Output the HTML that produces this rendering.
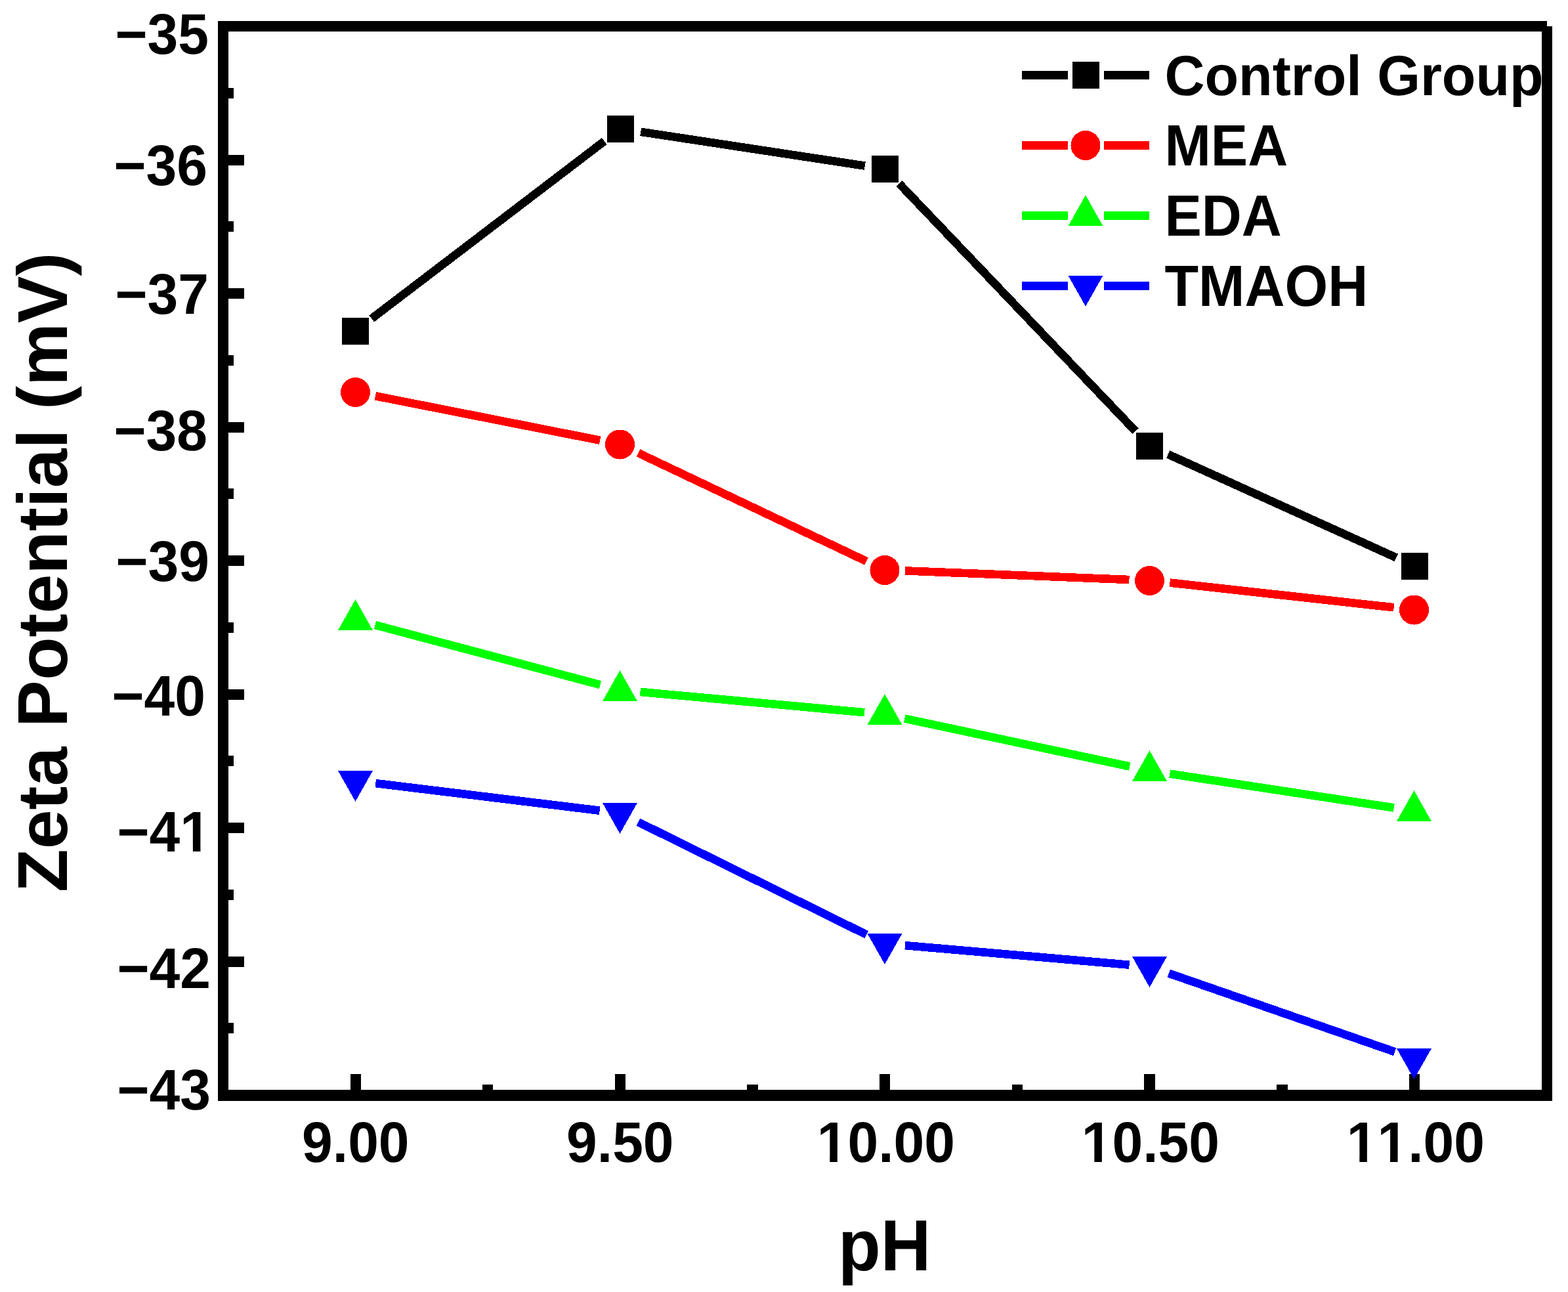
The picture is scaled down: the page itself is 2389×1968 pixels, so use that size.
<!DOCTYPE html>
<html lang="en">
<head>
<meta charset="utf-8">
<title>Zeta Potential vs pH</title>
<style>
html,body{margin:0;padding:0;background:#ffffff;}
body{width:2389px;height:1968px;}
svg{display:block;}
</style>
</head>
<body>
<svg width="2389" height="1968" viewBox="0 0 2389 1968" role="img" aria-label="Zeta potential versus pH line chart">
<rect x="0" y="0" width="2389" height="1968" fill="#ffffff"/>
<g id="axes" shape-rendering="crispEdges">
<rect x="332" y="32" width="16" height="1645" fill="#000"/>
<rect x="332" y="32" width="2025" height="16" fill="#000"/>
<rect x="2349" y="40" width="16" height="1637" fill="#000"/>
<rect x="332" y="1660" width="2033" height="17" fill="#000"/>
<rect x="348" y="236" width="24" height="16" fill="#000"/>
<rect x="348" y="439" width="24" height="16" fill="#000"/>
<rect x="348" y="643" width="24" height="16" fill="#000"/>
<rect x="348" y="846" width="24" height="16" fill="#000"/>
<rect x="348" y="1050" width="24" height="16" fill="#000"/>
<rect x="348" y="1253" width="24" height="16" fill="#000"/>
<rect x="348" y="1457" width="24" height="16" fill="#000"/>
<rect x="348" y="134" width="8" height="16" fill="#000"/>
<rect x="348" y="337" width="8" height="16" fill="#000"/>
<rect x="348" y="541" width="8" height="16" fill="#000"/>
<rect x="348" y="744" width="8" height="16" fill="#000"/>
<rect x="348" y="948" width="8" height="16" fill="#000"/>
<rect x="348" y="1151" width="8" height="16" fill="#000"/>
<rect x="348" y="1355" width="8" height="16" fill="#000"/>
<rect x="348" y="1558" width="8" height="16" fill="#000"/>
<rect x="534" y="1636" width="16" height="24" fill="#000"/>
<rect x="937" y="1636" width="16" height="24" fill="#000"/>
<rect x="1340" y="1636" width="16" height="24" fill="#000"/>
<rect x="1743" y="1636" width="17" height="24" fill="#000"/>
<rect x="2147" y="1636" width="16" height="24" fill="#000"/>
<rect x="735" y="1652" width="16" height="8" fill="#000"/>
<rect x="1138" y="1652" width="17" height="8" fill="#000"/>
<rect x="1542" y="1652" width="16" height="8" fill="#000"/>
<rect x="1945" y="1652" width="17" height="8" fill="#000"/>
</g>
<g id="data" shape-rendering="crispEdges">
<line x1="566.2" y1="485.4" x2="920.8" y2="215.0" stroke="#000000" stroke-width="12.6"/>
<line x1="976.2" y1="200.8" x2="1317.8" y2="252.6" stroke="#000000" stroke-width="12.6"/>
<line x1="1369.9" y1="279.6" x2="1730.1" y2="656.8" stroke="#000000" stroke-width="12.6"/>
<line x1="1779.7" y1="692.0" x2="2127.3" y2="849.4" stroke="#000000" stroke-width="12.6"/>
<rect x="521" y="484" width="41" height="41" fill="#000000"/>
<rect x="925" y="176" width="41" height="41" fill="#000000"/>
<rect x="1328" y="237" width="41" height="41" fill="#000000"/>
<rect x="1731" y="659" width="41" height="41" fill="#000000"/>
<rect x="2135" y="842" width="41" height="41" fill="#000000"/>
<line x1="571.9" y1="603.2" x2="914.1" y2="670.7" stroke="#ff0000" stroke-width="12.6"/>
<line x1="972.5" y1="690.0" x2="1320.0" y2="854.9" stroke="#ff0000" stroke-width="12.6"/>
<line x1="1379.0" y1="869.4" x2="1720.5" y2="883.0" stroke="#ff0000" stroke-width="12.6"/>
<line x1="1782.3" y1="887.6" x2="2123.7" y2="925.3" stroke="#ff0000" stroke-width="12.6"/>
<circle cx="541.5" cy="597.5" r="22.5" fill="#ff0000"/>
<circle cx="944.5" cy="677" r="22.5" fill="#ff0000"/>
<circle cx="1348" cy="868.5" r="22.5" fill="#ff0000"/>
<circle cx="1751.5" cy="884.5" r="22.5" fill="#ff0000"/>
<circle cx="2154.5" cy="929" r="22.5" fill="#ff0000"/>
<line x1="571.5" y1="952.0" x2="914.5" y2="1043.1" stroke="#00ff00" stroke-width="12.6"/>
<line x1="975.4" y1="1053.9" x2="1317.1" y2="1085.2" stroke="#00ff00" stroke-width="12.6"/>
<line x1="1378.3" y1="1094.5" x2="1721.2" y2="1167.5" stroke="#00ff00" stroke-width="12.6"/>
<line x1="1782.2" y1="1178.6" x2="2123.8" y2="1230.4" stroke="#00ff00" stroke-width="12.6"/>
<polygon points="541.5,913.1 515,960.0 568,960.0" fill="#00ff00"/>
<polygon points="944.5,1021.1 918,1068.0 971,1068.0" fill="#00ff00"/>
<polygon points="1348,1057.1 1321.5,1104.0 1374.5,1104.0" fill="#00ff00"/>
<polygon points="1751.5,1143.1 1725,1190.0 1778,1190.0" fill="#00ff00"/>
<polygon points="2154.5,1204.1 2128,1251.0 2181,1251.0" fill="#00ff00"/>
<line x1="572.3" y1="1193.1" x2="913.7" y2="1234.7" stroke="#0000ff" stroke-width="12.6"/>
<line x1="972.3" y1="1252.1" x2="1320.2" y2="1423.7" stroke="#0000ff" stroke-width="12.6"/>
<line x1="1378.9" y1="1440.1" x2="1720.6" y2="1469.7" stroke="#0000ff" stroke-width="12.6"/>
<line x1="1780.8" y1="1482.6" x2="2125.2" y2="1602.2" stroke="#0000ff" stroke-width="12.6"/>
<polygon points="541.5,1220.9 515,1174.0 568,1174.0" fill="#0000ff"/>
<polygon points="944.5,1269.9 918,1223.0 971,1223.0" fill="#0000ff"/>
<polygon points="1348,1468.9 1321.5,1422.0 1374.5,1422.0" fill="#0000ff"/>
<polygon points="1751.5,1503.9 1725,1457.0 1778,1457.0" fill="#0000ff"/>
<polygon points="2154.5,1643.9 2128,1597.0 2181,1597.0" fill="#0000ff"/>
</g>
<g id="legend" shape-rendering="crispEdges">
<rect x="1557" y="108" width="70" height="13" fill="#000000"/>
<rect x="1682" y="108" width="69" height="13" fill="#000000"/>
<rect x="1634" y="94" width="41" height="41" fill="#000000"/>
<rect x="1557" y="215" width="70" height="13" fill="#ff0000"/>
<rect x="1682" y="215" width="69" height="13" fill="#ff0000"/>
<circle cx="1654" cy="221.5" r="22.5" fill="#ff0000"/>
<rect x="1557" y="322" width="70" height="13" fill="#00ff00"/>
<rect x="1682" y="322" width="69" height="13" fill="#00ff00"/>
<polygon points="1654,297.3 1627.5,344.2 1680.5,344.2" fill="#00ff00"/>
<rect x="1557" y="429" width="70" height="13" fill="#0000ff"/>
<rect x="1682" y="429" width="69" height="13" fill="#0000ff"/>
<polygon points="1654,466.7 1627.5,419.8 1680.5,419.8" fill="#0000ff"/>
</g>
<g id="labels" font-family='"Liberation Sans", sans-serif' font-weight="700" fill="#000" style="font-kerning:none" text-rendering="geometricPrecision">
<text transform="translate(1774.4,145) scale(1,1.02)" font-size="84.5">Control Group</text>
<text transform="translate(1774.4,252) scale(1,1.05)" font-size="84.5">MEA</text>
<text transform="translate(1774.4,359) scale(1,1.05)" font-size="84.5">EDA</text>
<text transform="translate(1774.4,466) scale(1,1.05)" font-size="84.5">TMAOH</text>
<text transform="translate(175.514,82) scale(1,1.04)" font-size="84">−35</text>
<text transform="translate(173.514,282) scale(1,1.04)" font-size="84">−36</text>
<text transform="translate(175.514,478) scale(1,1.04)" font-size="84">−37</text>
<text transform="translate(173.514,686) scale(1,1.04)" font-size="84">−38</text>
<text transform="translate(176.514,885) scale(1,1.04)" font-size="84">−39</text>
<text transform="translate(170.514,1090) scale(1,1.04)" font-size="84">−40</text>
<text transform="translate(178.514,1297) scale(1,1.04)" font-size="84">−41</text>
<text transform="translate(178.514,1505) scale(1,1.04)" font-size="84">−42</text>
<text transform="translate(178.514,1690) scale(1,1.04)" font-size="84">−43</text>
<text transform="translate(460.088,1770) scale(1,1.04)" font-size="84">9.00</text>
<text transform="translate(863.088,1770) scale(1,1.04)" font-size="84">9.50</text>
<text transform="translate(1244.71,1770) scale(1,1.04)" font-size="84">10.00</text>
<text transform="translate(1647.71,1770) scale(1,1.04)" font-size="84">10.50</text>
<text transform="translate(2051.71,1770) scale(1,1.04)" font-size="84">11.00</text>
<text transform="translate(1277.01,1935) scale(1,1.04)" font-size="106">pH</text>
<text transform="translate(102,1359) rotate(-90)" font-size="107.6">Zeta Potential (mV)</text>
</g>
<g id="glyph-trim" fill="#ffffff">
<rect x="278.58" y="1287.48" width="15.31" height="10.52"/>
<rect x="305.42" y="1287.48" width="14.25" height="10.52"/>
<rect x="1249.00" y="1760.48" width="15.31" height="10.52"/>
<rect x="1275.84" y="1760.48" width="14.25" height="10.52"/>
<rect x="1652.00" y="1760.48" width="15.31" height="10.52"/>
<rect x="1678.84" y="1760.48" width="14.25" height="10.52"/>
<rect x="2056.00" y="1760.48" width="15.31" height="10.52"/>
<rect x="2082.84" y="1760.48" width="14.25" height="10.52"/>
<rect x="2102.72" y="1760.48" width="15.31" height="10.52"/>
<rect x="2129.56" y="1760.48" width="14.25" height="10.52"/>
</g>
</svg>
</body>
</html>
